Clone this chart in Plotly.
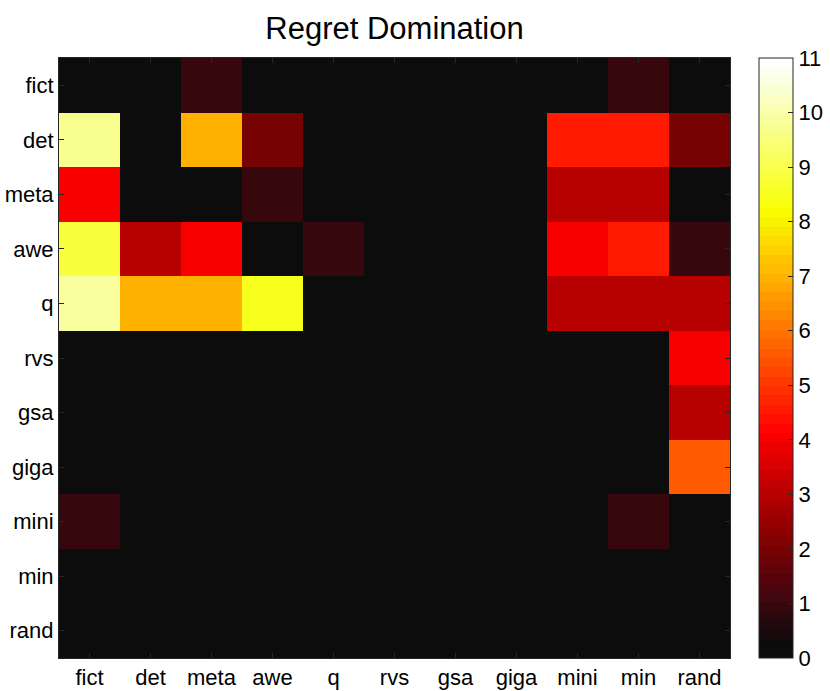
import plotly.graph_objects as go

names = ["fict", "det", "meta", "awe", "q", "rvs", "gsa", "giga", "mini", "min", "rand"]

# rows (top to bottom) x columns (left to right)
z_fict = [0, 0, 1, 0, 0, 0, 0, 0, 0, 1, 0]
z_det = [9.7, 0, 7, 2, 0, 0, 0, 0, 4.5, 4.5, 2]
z_meta = [4, 0, 0, 1, 0, 0, 0, 0, 3, 3, 0]
z_awe = [8.8, 3, 4, 0, 1, 0, 0, 0, 4, 4.5, 1]
z_q = [9.9, 7, 7, 8.5, 0, 0, 0, 0, 3, 3, 3]
z_rvs = [0, 0, 0, 0, 0, 0, 0, 0, 0, 0, 4]
z_gsa = [0, 0, 0, 0, 0, 0, 0, 0, 0, 0, 3]
z_giga = [0, 0, 0, 0, 0, 0, 0, 0, 0, 0, 5.5]
z_mini = [1, 0, 0, 0, 0, 0, 0, 0, 0, 1, 0]
z_min = [0, 0, 0, 0, 0, 0, 0, 0, 0, 0, 0]
z_rand = [0, 0, 0, 0, 0, 0, 0, 0, 0, 0, 0]

z = [z_fict, z_det, z_meta, z_awe, z_q, z_rvs, z_gsa, z_giga, z_mini, z_min, z_rand]

zmin, zmax = 0, 11
cbar_ticks = list(range(0, 12))


def hot_rgb(t):
    # MATLAB "hot"-like map with a dark-gray floor as seen in the reference
    r = min(1.0, t / 0.375)
    g = min(1.0, max(0.0, (t - 0.375) / 0.375))
    b = min(1.0, max(0.0, (t - 0.75) / 0.25))
    floor = 12 / 255.0
    if t < 0.2:
        k = 1 - t / 0.2
        r = max(r, floor * k + r * (1 - k))
        g = floor * k + g * (1 - k)
        b = floor * k + b * (1 - k) + 0.03 * (1 - abs(t - 0.1) / 0.1) if t > 0 else floor
    r, g, b = (min(1.0, max(0.0, v)) for v in (r, g, b))
    if 0.7 < t < 0.98:
        r = r - 0.025
    return "rgb(%d,%d,%d)" % (round(r * 255), round(g * 255), round(b * 255))


# stepped 64-band colorscale like hot(64)
n = 64
colorscale = []
for i in range(n):
    c = hot_rgb(i / (n - 1))
    colorscale.append([i / n, c])
    colorscale.append([(i + 1) / n, c])

W, H = 830, 691

fig = go.Figure(
    go.Heatmap(
        z=z,
        x=names,
        y=names,
        zmin=zmin,
        zmax=zmax,
        colorscale=colorscale,
        xgap=0,
        ygap=0,
        colorbar=dict(
            thickness=34,
            thicknessmode="pixels",
            len=1,
            lenmode="fraction",
            y=0.5,
            yanchor="middle",
            xref="container",
            x=759 / W,
            xanchor="left",
            xpad=0,
            ypad=0,
            outlinecolor="#262626",
            outlinewidth=1,
            tickmode="array",
            tickvals=cbar_ticks,
            ticktext=[str(v) for v in cbar_ticks],
            ticks="inside",
            ticklen=5,
            tickcolor="#262626",
            tickfont=dict(family="Liberation Sans, Arial, sans-serif", size=22, color="black"),
        ),
    )
)

fig.update_layout(
    width=W,
    height=H,
    autosize=False,
    margin=dict(l=59, r=100, t=58, b=33, autoexpand=False),
    paper_bgcolor="white",
    plot_bgcolor="#0c0c0c",
    title=dict(
        text="Regret Domination",
        x=0.5,
        xref="paper",
        xanchor="center",
        y=1 - 39 / H,
        yref="container",
        yanchor="bottom",
        pad=dict(t=0, b=0),
        automargin=False,
        font=dict(family="Liberation Sans, Arial, sans-serif", size=31, color="black"),
    ),
    font=dict(family="Liberation Sans, Arial, sans-serif", size=22, color="black"),
)

fig.update_xaxes(
    type="category",
    automargin=False,
    showline=True,
    linecolor="#262626",
    linewidth=1,
    mirror="ticks",
    ticks="inside",
    ticklen=5,
    tickcolor="#262626",
    tickfont=dict(size=22),
    showgrid=False,
    zeroline=False,
)
fig.update_yaxes(
    type="category",
    automargin=False,
    autorange="reversed",
    showline=True,
    linecolor="#262626",
    linewidth=1,
    mirror="ticks",
    ticks="inside",
    ticklen=5,
    tickcolor="#262626",
    tickfont=dict(size=22),
    showgrid=False,
    zeroline=False,
)

fig.write_html(
    "out.html",
    config={"displayModeBar": False},
    post_script="document.body.style.margin='0';document.body.style.overflow='hidden';",
)
